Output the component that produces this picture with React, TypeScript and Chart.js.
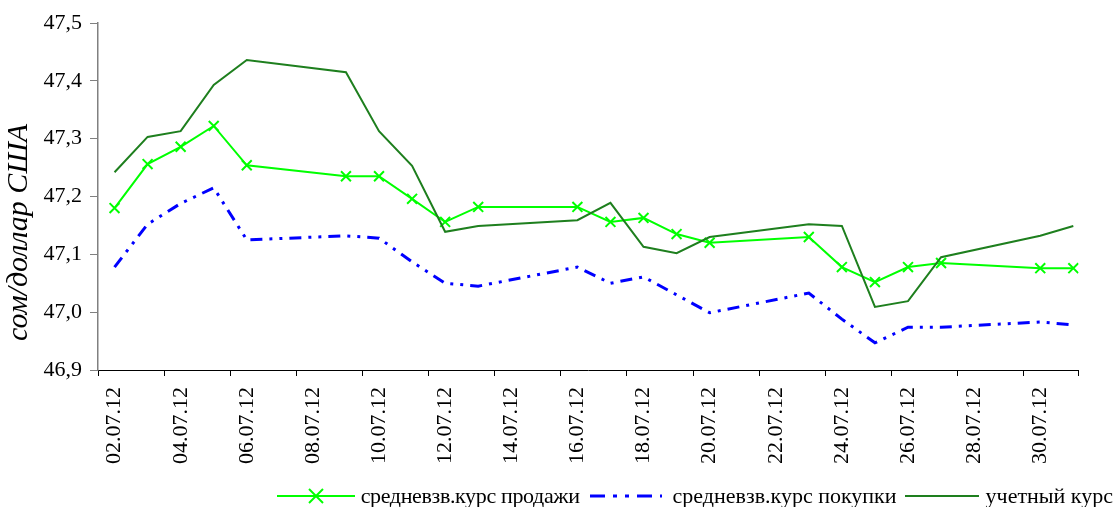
import React, { useEffect, useRef } from 'react';
import { Chart, registerables } from 'chart.js';

Chart.register(...registerables);

const dates = [
  '02.07.12', '03.07.12', '04.07.12', '05.07.12', '06.07.12', '07.07.12',
  '08.07.12', '09.07.12', '10.07.12', '11.07.12', '12.07.12', '13.07.12',
  '14.07.12', '15.07.12', '16.07.12', '17.07.12', '18.07.12', '19.07.12',
  '20.07.12', '21.07.12', '22.07.12', '23.07.12', '24.07.12', '25.07.12',
  '26.07.12', '27.07.12', '28.07.12', '29.07.12', '30.07.12', '31.07.12',
];

const salesRate = [
  47.180, 47.256, 47.286, 47.322, 47.254, null,
  null, 47.235, 47.235, 47.196, 47.156, 47.182,
  null, null, 47.182, 47.156, 47.163, 47.135,
  47.120, null, null, 47.130, 47.078, 47.052,
  47.078, 47.085, null, null, 47.076, 47.076,
];

const purchaseRate = [
  47.078, 47.152, 47.188, 47.215, 47.125, null,
  null, 47.132, 47.128, 47.087, 47.050, 47.045,
  null, null, 47.078, 47.050, 47.061, 47.030,
  46.999, null, null, 47.033, 46.988, 46.947,
  46.974, 46.974, null, null, 46.983, 46.978,
];

const officialRate = [
  47.242, 47.303, 47.313, 47.393, 47.436, null,
  null, 47.415, 47.313, 47.253, 47.139, 47.149,
  null, null, 47.159, 47.189, 47.113, 47.102,
  47.130, null, null, 47.152, 47.149, 47.009,
  47.019, 47.095, null, null, 47.132, 47.149,
];

const seriesNames = ['средневзв.курс продажи', 'средневзв.курс покупки', 'учетный курс'];
const yTitle = 'сом/доллар США';

// x axis (in day-index units): starts half a day before the first date, ends a bit after 31.07
const X_MIN = -0.5;
const X_MAX = 29.16;

const FONT = "'Liberation Serif', 'Times New Roman', serif";
const LIME = '#00FF00';
const BLUE = '#0000FF';
const DKGREEN = '#1E7F1E';
const BLUE_DASH = [12, 7, 3, 7, 3, 7];

const toPoints = (arr: (number | null)[]) => arr.map((y, i) => ({ x: i, y }));

const yTitlePlugin = {
  id: 'yTitlePlugin',
  afterDraw(chart: any) {
    const { ctx, chartArea } = chart;
    const cy = (chartArea.top + chartArea.bottom) / 2 + 36;
    ctx.save();
    ctx.translate(19, cy);
    ctx.rotate(-Math.PI / 2);
    ctx.font = `italic 30px ${FONT}`;
    ctx.fillStyle = '#000';
    ctx.textAlign = 'center';
    ctx.textBaseline = 'middle';
    ctx.fillText(yTitle, 0, 0);
    ctx.restore();
  },
};

export default function App() {
  const ref = useRef<HTMLCanvasElement | null>(null);

  useEffect(() => {
    if (!ref.current) return;
    const chart = new Chart(ref.current, {
      type: 'line',
      data: {
        datasets: [
          {
            label: seriesNames[2],
            data: toPoints(officialRate),
            borderColor: DKGREEN,
            borderWidth: 2,
            pointRadius: 0,
            spanGaps: true,
            tension: 0,
          },
          {
            label: seriesNames[1],
            data: toPoints(purchaseRate),
            borderColor: BLUE,
            borderWidth: 3,
            borderDash: BLUE_DASH,
            pointRadius: 0,
            spanGaps: true,
            tension: 0,
          },
          {
            label: seriesNames[0],
            data: toPoints(salesRate),
            borderColor: LIME,
            borderWidth: 2,
            pointStyle: 'crossRot',
            pointRadius: 7,
            pointBorderWidth: 2,
            pointBorderColor: LIME,
            pointBackgroundColor: LIME,
            spanGaps: true,
            tension: 0,
          },
        ],
      },
      options: {
        animation: false,
        responsive: false,
        layout: { padding: { left: 0, top: 23, right: 34, bottom: 0 } },
        plugins: {
          legend: { display: false },
          title: { display: false },
          tooltip: { enabled: false },
        },
        scales: {
          x: {
            type: 'linear',
            min: X_MIN,
            max: X_MAX,
            afterFit: (scale: any) => {
              scale.height = 137;
            },
            afterBuildTicks: (scale: any) => {
              const t: { value: number }[] = [];
              for (let i = 0; i < dates.length; i += 2) t.push({ value: i - 0.5 });
              t.push({ value: X_MAX });
              scale.ticks = t;
            },
            border: { color: '#000', width: 1 },
            grid: {
              drawOnChartArea: false,
              tickLength: 6,
              tickColor: '#000',
            },
            ticks: {
              autoSkip: false,
              maxRotation: 90,
              minRotation: 90,
              padding: 11,
              labelOffset: 16.6,
              color: '#000',
              font: { family: FONT, size: 22 },
              callback: (v: any) => {
                const idx = Math.round(Number(v) + 0.5);
                return Math.abs(Number(v) + 0.5 - idx) < 1e-6 && dates[idx] ? dates[idx] : '';
              },
            },
          },
          y: {
            min: 46.9,
            max: 47.5,
            afterFit: (scale: any) => {
              scale.width = 98;
            },
            border: { color: '#808080', width: 1.5 },
            grid: {
              drawOnChartArea: false,
              tickLength: 8,
              tickColor: '#808080',
            },
            ticks: {
              stepSize: 0.1,
              padding: 8,
              color: '#000',
              font: { family: FONT, size: 22 },
              callback: (v: any) => Number(v).toFixed(1).replace('.', ','),
            },
          },
        },
      },
      plugins: [yTitlePlugin],
    } as any);
    return () => chart.destroy();
  }, []);

  const textStyle: React.CSSProperties = { fontFamily: FONT, fontSize: 22, color: '#000', whiteSpace: 'nowrap' };

  return (
    <div style={{ position: 'fixed', left: 0, top: 0, width: 1116, height: 507, background: '#fff' }}>
      <canvas ref={ref} width={1116} height={507} style={{ display: 'block' }} />
      <div
        style={{
          position: 'absolute',
          right: 3,
          top: 483,
          height: 26,
          display: 'flex',
          alignItems: 'center',
        }}
      >
        <svg width={78} height={20} style={{ marginRight: 6 }}>
          <line x1={0} y1={10} x2={78} y2={10} stroke={LIME} strokeWidth={2} />
          <line x1={32} y1={3} x2={46} y2={17} stroke={LIME} strokeWidth={2} />
          <line x1={46} y1={3} x2={32} y2={17} stroke={LIME} strokeWidth={2} />
        </svg>
        <span style={{ ...textStyle, letterSpacing: -0.35 }}>{seriesNames[0]}</span>
        <svg width={72} height={20} style={{ marginLeft: 10, marginRight: 11 }}>
          <line x1={0} y1={10} x2={72} y2={10} stroke={BLUE} strokeWidth={3} strokeDasharray="15 8 4 8 4 8" />
        </svg>
        <span style={textStyle}>{seriesNames[1]}</span>
        <svg width={74} height={20} style={{ marginLeft: 8, marginRight: 7 }}>
          <line x1={0} y1={10} x2={74} y2={10} stroke={DKGREEN} strokeWidth={2} />
        </svg>
        <span style={textStyle}>{seriesNames[2]}</span>
      </div>
    </div>
  );
}
